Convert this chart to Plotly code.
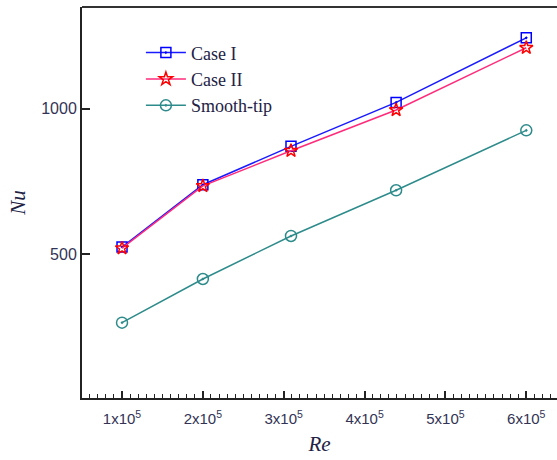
import plotly.graph_objects as go

re_vals = [1.0e5, 2.0e5, 3.09e5, 4.39e5, 6.0e5]
case1 = [524, 738, 870, 1021, 1243]
case2 = [520, 734, 855, 995, 1209]
smooth = [264, 414, 562, 719, 925]
xtick_vals = [1e5, 2e5, 3e5, 4e5, 5e5, 6e5]
xtick_text = ["1x10<sup>5</sup>", "2x10<sup>5</sup>", "3x10<sup>5</sup>",
              "4x10<sup>5</sup>", "5x10<sup>5</sup>", "6x10<sup>5</sup>"]

fig = go.Figure()
fig.add_trace(go.Scatter(x=re_vals, y=case1, mode="lines+markers", name="Case I",
                         line=dict(color="#1a1aff", width=1.5),
                         marker=dict(symbol="square-open-dot", size=10, color="#0000ff",
                                     line=dict(width=1.5, color="#0000ff"))))
fig.add_trace(go.Scatter(x=re_vals, y=case2, mode="lines+markers", name="Case II",
                         line=dict(color="#ff2a7a", width=1.5),
                         marker=dict(symbol="star-open", size=10, color="#ff0000",
                                     line=dict(width=1.5, color="#ff0000"))))
fig.add_trace(go.Scatter(x=re_vals, y=smooth, mode="lines+markers", name="Smooth-tip",
                         line=dict(color="#2e8b8b", width=1.5),
                         marker=dict(symbol="circle-open-dot", size=11, color="#2e8b8b",
                                     line=dict(width=1.5, color="#2e8b8b"))))

fig.update_layout(
    width=557, height=460,
    margin=dict(l=82, r=0, t=7, b=62),
    plot_bgcolor="white", paper_bgcolor="white",
    showlegend=True,
    legend=dict(x=0.124, y=0.93, xanchor="left", yanchor="top",
                bgcolor="rgba(0,0,0,0)", borderwidth=0,
                font=dict(family="Liberation Serif", size=18, color="#222244"),
                itemwidth=40, tracegroupgap=0),
    xaxis=dict(range=[0.505e5, 6.38e5], tickvals=xtick_vals, ticktext=xtick_text,
               ticks="inside", ticklen=7, tickwidth=1.5, tickcolor="#222",
               showline=True, linecolor="#222", linewidth=2,
               showgrid=False, zeroline=False, ticklabelstandoff=6,
               minor=dict(dtick=1e4, tick0=0, ticks="inside", ticklen=4, tickwidth=1, tickcolor="#222"),
               tickfont=dict(family="Liberation Sans", size=15, color="#333355"),
               title=dict(text="<i>Re</i>", font=dict(family="Liberation Serif", size=21, color="#222244"),
                          standoff=10)),
    yaxis=dict(range=[5, 1349], tickvals=[500, 1000],
               ticks="inside", ticklen=8, tickwidth=1.5, tickcolor="#222",
               showline=True, linecolor="#222", linewidth=2,
               showgrid=False, zeroline=False,
               tickfont=dict(family="Liberation Sans", size=16, color="#333355"),
               title=dict(text="<i>Nu</i>", font=dict(family="Liberation Serif", size=21, color="#222244"),
                          standoff=10)),
)
fig.add_shape(type="line", xref="paper", yref="paper", x0=0, x1=1, y0=1, y1=1,
              line=dict(color="#333", width=2))

fig.write_html("out.html", config={"displayModeBar": False})
with open("out.html", "r", encoding="utf-8") as f:
    html = f.read()
html = html.replace("<head>", "<head><style>html,body{margin:0;padding:0;overflow:hidden}</style>", 1)
with open("out.html", "w", encoding="utf-8") as f:
    f.write(html)
